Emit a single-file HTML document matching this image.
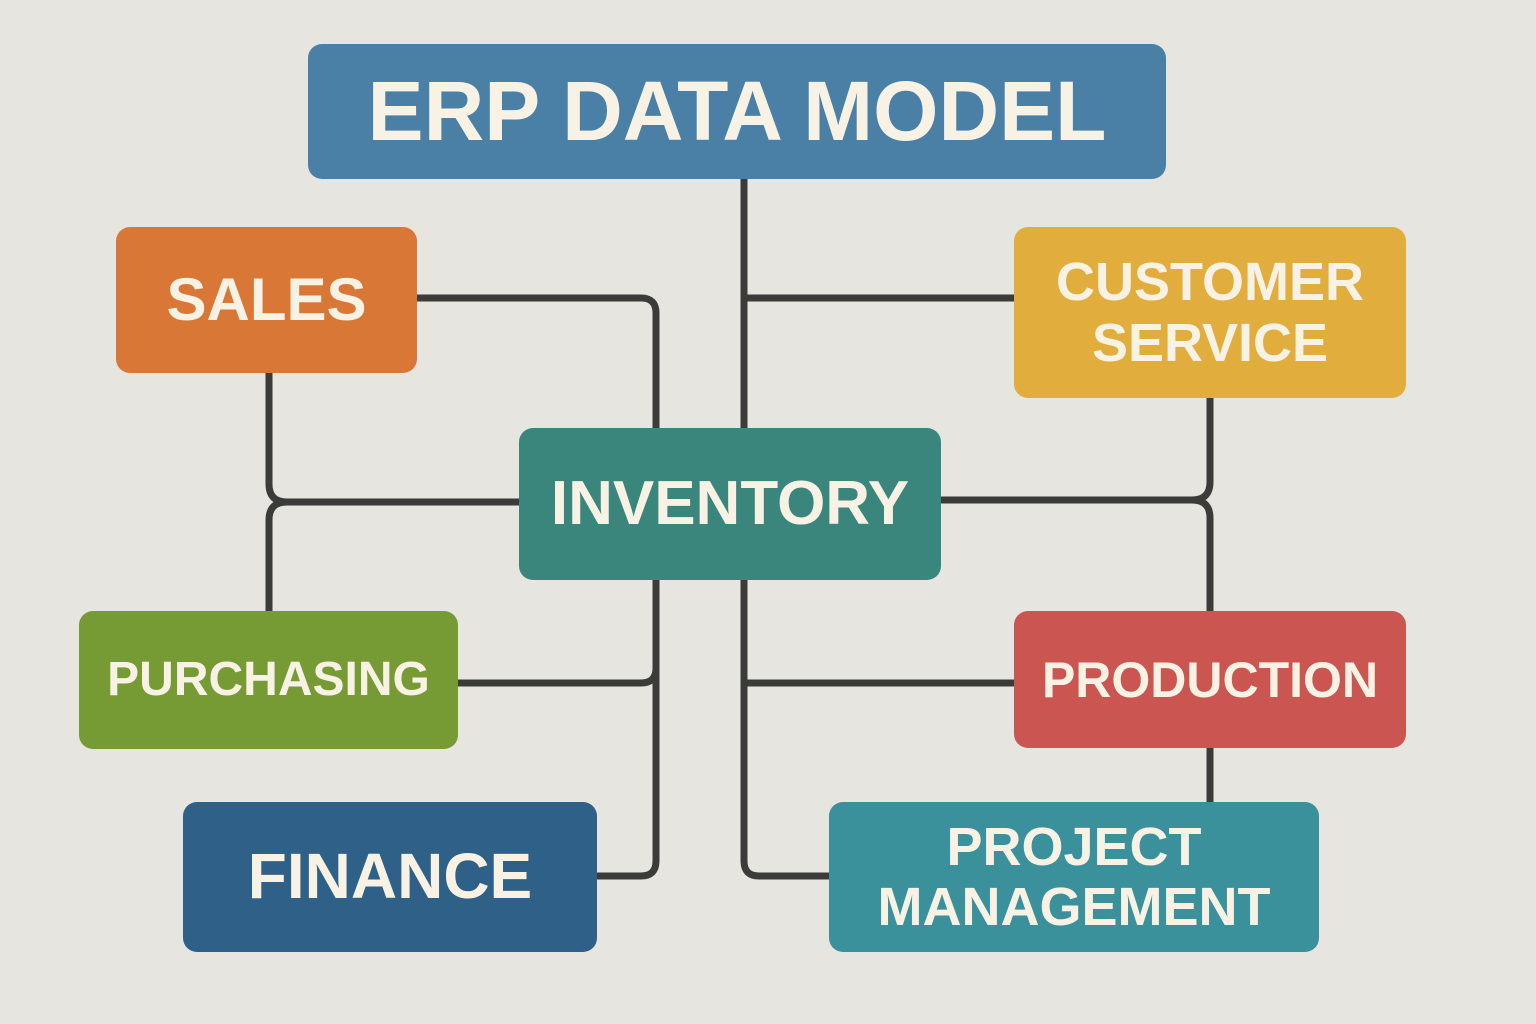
<!DOCTYPE html>
<html><head><meta charset="utf-8"><style>
html,body{margin:0;padding:0;}
body{width:1536px;height:1024px;background:#e7e5e0;position:relative;overflow:hidden;font-family:"Liberation Sans","DejaVu Sans",sans-serif;}
svg{position:absolute;left:0;top:0;}
.b{position:absolute;border-radius:14px;display:flex;align-items:center;justify-content:center;text-align:center;color:#f7f2e4;font-weight:bold;line-height:1.12;}
</style></head><body>
<svg width="1536" height="1024" fill="none" stroke="#3b3c3a" stroke-width="7" stroke-linejoin="round">
<path d="M744 179 V430"/>
<path d="M744 298 H1016"/>
<path d="M415 298 H641 Q656 298 656 313 V430"/>
<path d="M269 372 V484 Q269 502 287 502 H521"/>
<path d="M287 502 Q269 502 269 520 V612"/>
<path d="M456 683 H641 Q656 683 656 668"/>
<path d="M656 578 V861 Q656 876 641 876 H595"/>
<path d="M939 500 H1192 Q1210 500 1210 482 V396"/>
<path d="M1192 500 Q1210 500 1210 518 V612"/>
<path d="M1210 746 V804"/>
<path d="M744 578 V861 Q744 876 759 876 H831"/>
<path d="M744 683 H1016"/>
</svg>
<div class="b" style="left:308px;top:44px;width:858px;height:135px;background:#4a80a6;font-size:84px;">ERP DATA MODEL</div>
<div class="b" style="left:116px;top:227px;width:301px;height:146px;background:#d97736;font-size:60px;">SALES</div>
<div class="b" style="left:1014px;top:227px;width:392px;height:171px;background:#e1ad3d;font-size:54px;">CUSTOMER<br>SERVICE</div>
<div class="b" style="left:519px;top:428px;width:422px;height:152px;background:#3a867d;font-size:62px;">INVENTORY</div>
<div class="b" style="left:79px;top:611px;width:379px;height:138px;background:#769b35;font-size:48px;">PURCHASING</div>
<div class="b" style="left:1014px;top:611px;width:392px;height:137px;background:#cb5550;font-size:50px;">PRODUCTION</div>
<div class="b" style="left:183px;top:802px;width:414px;height:150px;background:#2f6088;font-size:64px;">FINANCE</div>
<div class="b" style="left:829px;top:802px;width:490px;height:150px;background:#3a909b;font-size:54px;">PROJECT<br>MANAGEMENT</div>
</body></html>
